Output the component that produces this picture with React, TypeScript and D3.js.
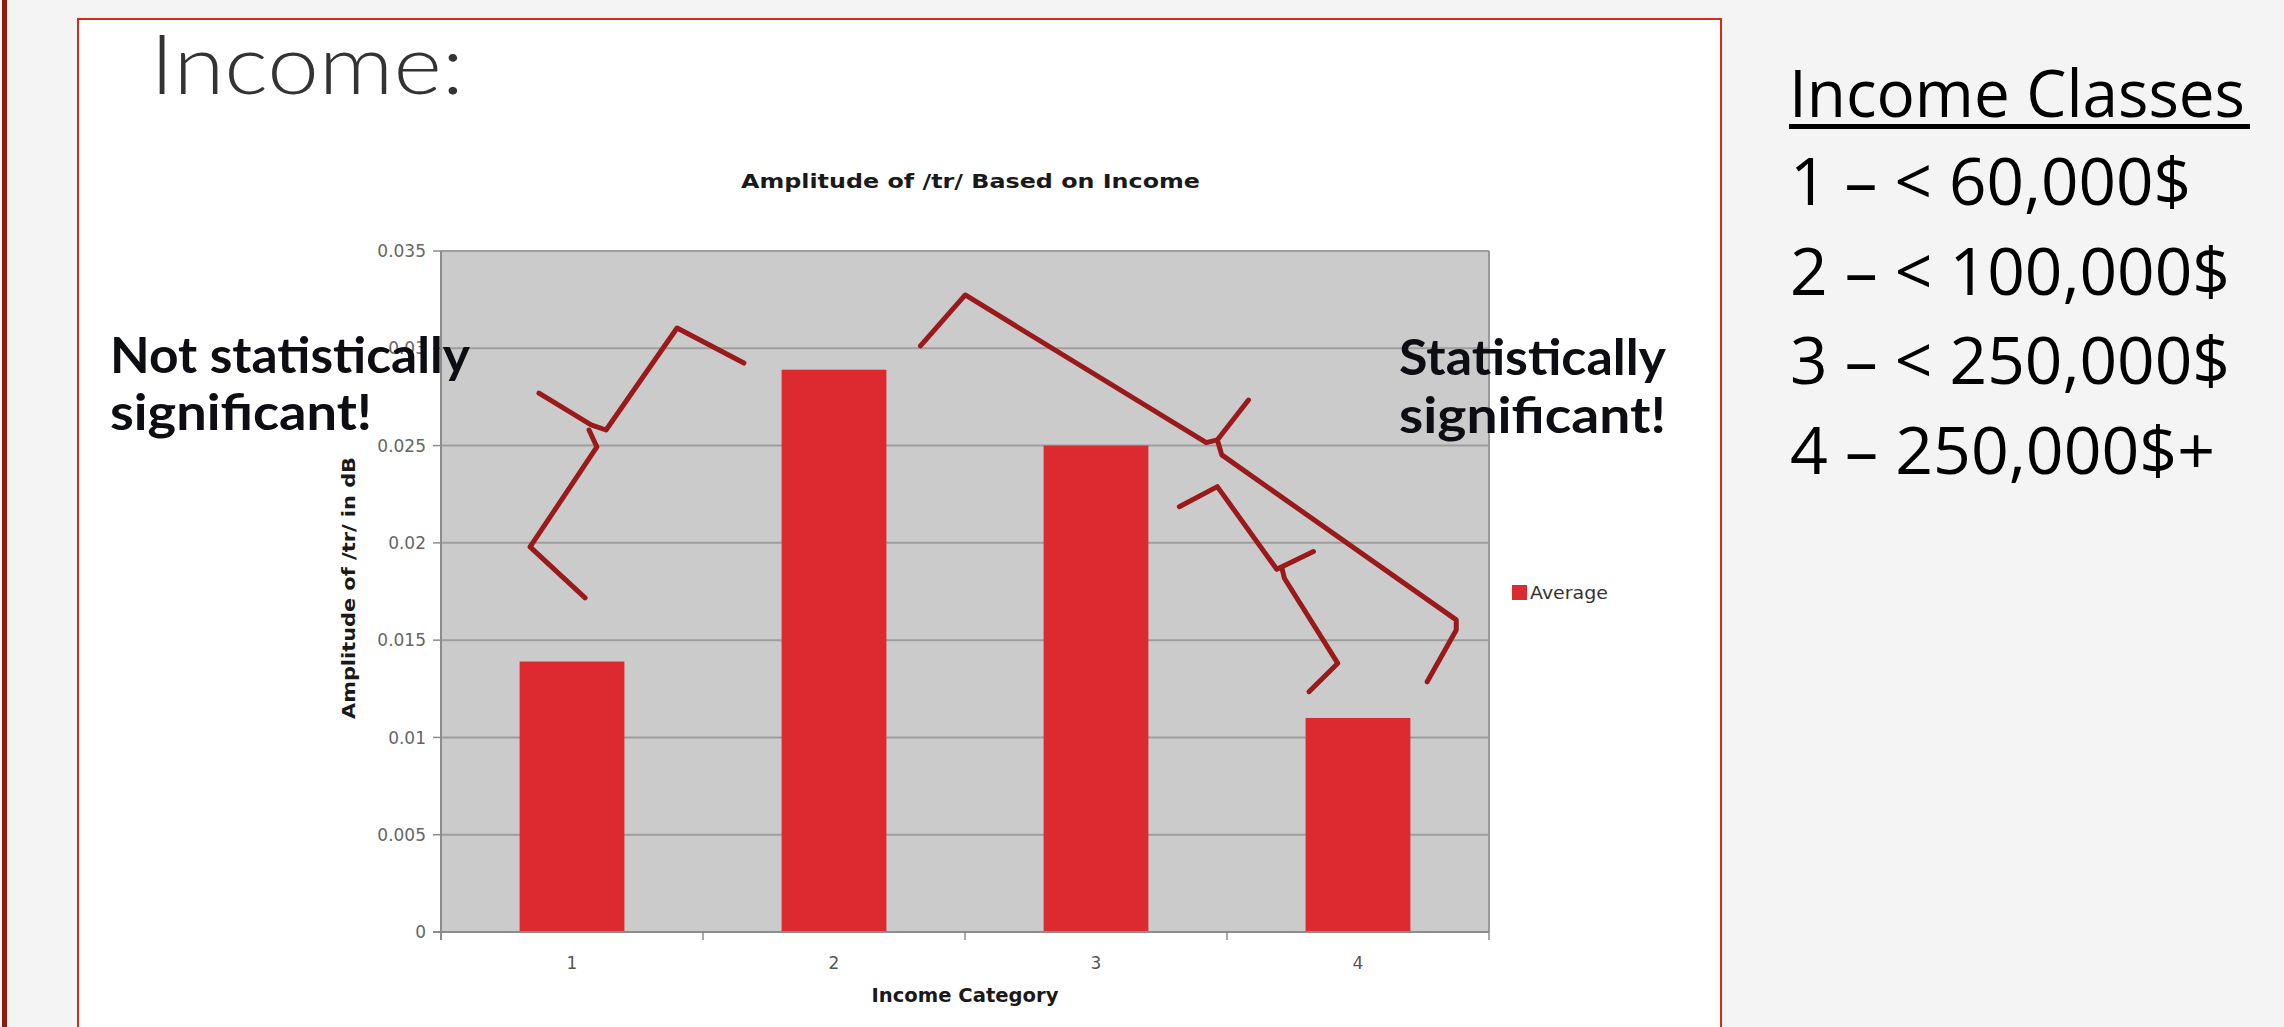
import React from 'react';
import * as d3 from 'd3';

// ---------- data ----------
const categories = ['1', '2', '3', '4'];
const averageValues = [0.0139, 0.0289, 0.025, 0.011];
const yTickValues = [0, 0.005, 0.01, 0.015, 0.02, 0.025, 0.03, 0.035];
const yTickLabels = ['0', '0.005', '0.01', '0.015', '0.02', '0.025', '0.03', '0.035'];
const seriesName = 'Average';
const chartTitle = 'Amplitude of /tr/ Based on Income';
const xAxisTitle = 'Income Category';
const yAxisTitle = 'Amplitude of /tr/ in dB';
const slideTitle = 'Income:';
const legendHeading = 'Income Classes';
const incomeClasses = ['1 – < 60,000$', '2 – < 100,000$', '3 – < 250,000$', '4 – 250,000$+'];
const notSigLines = ['Not statistically', 'significant!'];
const sigLines = ['Statistically', 'significant!'];

// hand-drawn brackets, in data coordinates: [category position, value]
const bracketNotSigA: [number, number][] = [[1.05, 0.01717], [0.84, 0.01979], [1.095, 0.02493], [1.065, 0.0258]];
const bracketNotSigB: [number, number][] = [[0.874, 0.0277], [1.073, 0.02606], [1.13, 0.0258], [1.401, 0.03104], [1.656, 0.02924]];
const bracketBigA: [number, number][] = [[2.33, 0.03012], [2.501, 0.03274], [3.421, 0.02515], [3.463, 0.02529], [3.582, 0.02734]];
const bracketBigB: [number, number][] = [[3.463, 0.02529], [3.48, 0.02452], [4.375, 0.01604], [4.375, 0.01552], [4.264, 0.01286]];
const bracketSmallA: [number, number][] = [[3.318, 0.02186], [3.463, 0.02289], [3.69, 0.01864], [3.83, 0.01955]];
const bracketSmallB: [number, number][] = [[3.71, 0.01869], [3.719, 0.01818], [3.923, 0.01381], [3.813, 0.01235]];
const brackets = [bracketNotSigA, bracketNotSigB, bracketBigA, bracketBigB, bracketSmallA, bracketSmallB];

// ---------- layout ----------
const W = 2284;
const H = 1027;
const plot = { left: 441, right: 1489, top: 251, bottom: 932 };
const chartFont = '"DejaVu Sans", Verdana, sans-serif';
const annoFont = 'Lato, "Open Sans", sans-serif';
const sideFont = '"Open Sans", "Noto Sans", sans-serif';

export default function App() {
  const x = d3
    .scaleBand<string>()
    .domain(categories)
    .range([plot.left, plot.right])
    .paddingInner(0.6)
    .paddingOuter(0.3);
  const xEdges = d3
    .scaleBand<string>()
    .domain(categories)
    .range([plot.left, plot.right]);
  const xPos = d3.scaleLinear().domain([0.5, 4.5]).range([plot.left, plot.right]);
  const y = d3.scaleLinear().domain([0, 0.035]).range([plot.bottom, plot.top]);
  const line = d3
    .line<[number, number]>()
    .x((d) => xPos(d[0]))
    .y((d) => y(d[1]));

  return (
    <svg
      width={W}
      height={H}
      viewBox={`0 0 ${W} ${H}`}
      style={{ position: 'absolute', left: 0, top: 0, display: 'block' }}
    >
      {/* slide background */}
      <rect x={0} y={0} width={W} height={H} fill="#f4f4f4" />
      <rect x={2} y={0} width={5} height={H} fill="#8e1a10" />
      {/* white panel */}
      <rect x={78} y={19} width={1643} height={H} fill="#ffffff" stroke="#d42c16" strokeWidth={2} />

      <text
        x={150}
        y={94}
        fontFamily={annoFont}
        fontWeight={300}
        fontSize={82}
        fill="#333333"
        textLength={314}
        lengthAdjust="spacingAndGlyphs"
      >
        {slideTitle}
      </text>

      {/* chart title */}
      <text
        x={741}
        y={188}
        fontFamily={chartFont}
        fontWeight="bold"
        fontSize={20}
        fill="#1a1a1a"
        textLength={459}
        lengthAdjust="spacingAndGlyphs"
      >
        {chartTitle}
      </text>

      {/* plot area */}
      <rect
        x={plot.left}
        y={plot.top}
        width={plot.right - plot.left}
        height={plot.bottom - plot.top}
        fill="#cbcbcb"
      />
      {yTickValues.map((t) => (
        <line
          key={`g${t}`}
          x1={plot.left}
          x2={plot.right}
          y1={y(t)}
          y2={y(t)}
          stroke="#9e9e9e"
          strokeWidth={2}
        />
      ))}
      <line x1={plot.right} x2={plot.right} y1={plot.top} y2={plot.bottom} stroke="#9a9a9a" strokeWidth={2} />

      {/* bars */}
      {categories.map((c, i) => (
        <rect
          key={`b${c}`}
          x={x(c)}
          y={y(averageValues[i])}
          width={x.bandwidth()}
          height={plot.bottom - y(averageValues[i])}
          fill="#dd2a30"
        />
      ))}

      {/* axes */}
      <line x1={plot.left} x2={plot.left} y1={plot.top} y2={plot.bottom + 8} stroke="#8c8c8c" strokeWidth={2} />
      <line x1={plot.left - 8} x2={plot.right} y1={plot.bottom} y2={plot.bottom} stroke="#8c8c8c" strokeWidth={2} />
      {yTickValues.map((t, i) => (
        <g key={`yt${t}`}>
          <line x1={plot.left - 8} x2={plot.left} y1={y(t)} y2={y(t)} stroke="#8c8c8c" strokeWidth={1.5} />
          <text
            x={plot.left - 15}
            y={y(t)}
            dy="0.36em"
            textAnchor="end"
            fontFamily={chartFont}
            fontSize={17}
            fill="#666"
          >
            {yTickLabels[i]}
          </text>
        </g>
      ))}
      {categories.map((c) => (
        <g key={`xt${c}`}>
          <line
            x1={(xEdges(c) as number) + xEdges.bandwidth()}
            x2={(xEdges(c) as number) + xEdges.bandwidth()}
            y1={plot.bottom}
            y2={plot.bottom + 8}
            stroke="#8c8c8c"
            strokeWidth={1.5}
          />
          <text
            x={(x(c) as number) + x.bandwidth() / 2}
            y={969}
            textAnchor="middle"
            fontFamily={chartFont}
            fontSize={17}
            fill="#555"
          >
            {c}
          </text>
        </g>
      ))}
      <text
        x={(plot.left + plot.right) / 2}
        y={1002}
        textAnchor="middle"
        fontFamily={chartFont}
        fontWeight="bold"
        fontSize={19}
        fill="#1a1a1a"
        textLength={187}
        lengthAdjust="spacingAndGlyphs"
      >
        {xAxisTitle}
      </text>
      <text
        transform={`translate(355, 588) rotate(-90)`}
        textAnchor="middle"
        fontFamily={chartFont}
        fontWeight="bold"
        fontSize={18}
        fill="#1a1a1a"
        textLength={262}
        lengthAdjust="spacingAndGlyphs"
      >
        {yAxisTitle}
      </text>

      {/* legend */}
      <rect x={1512} y={585} width={15} height={15} fill="#dd2a30" />
      <text
        x={1530}
        y={593}
        dy="0.36em"
        fontFamily={chartFont}
        fontSize={18}
        fill="#333"
        textLength={78}
        lengthAdjust="spacingAndGlyphs"
      >
        {seriesName}
      </text>

      {/* annotations */}
      {notSigLines.map((t, i) => (
        <text
          key={`ns${i}`}
          x={110}
          y={373 + i * 57}
          fontFamily={annoFont}
          fontWeight="bold"
          fontSize={50}
          fill="#0d0d14"
          textLength={i === 0 ? 360 : 262}
          lengthAdjust="spacingAndGlyphs"
        >
          {t}
        </text>
      ))}
      {sigLines.map((t, i) => (
        <text
          key={`s${i}`}
          x={1399}
          y={375 + i * 58}
          fontFamily={annoFont}
          fontWeight="bold"
          fontSize={50}
          fill="#0d0d14"
          textLength={267}
          lengthAdjust="spacingAndGlyphs"
        >
          {t}
        </text>
      ))}
      {brackets.map((b, i) => (
        <path
          key={`br${i}`}
          d={line(b) || ''}
          fill="none"
          stroke="#9a1a1c"
          strokeWidth={5}
          strokeLinejoin="round"
          strokeLinecap="round"
        />
      ))}

      {/* income classes */}
      <text
        x={1789}
        y={117}
        fontFamily={sideFont}
        fontSize={66}
        fill="#000"
        textLength={456}
        lengthAdjust="spacingAndGlyphs"
      >
        {legendHeading}
      </text>
      <rect x={1789} y={124} width={461} height={5} fill="#000" />
      {incomeClasses.map((t, i) => (
        <text
          key={`ic${i}`}
          x={1790}
          y={205 + i * 89.5}
          fontFamily={sideFont}
          fontSize={66}
          fill="#000"
          textLength={[401, 440, 440, 425][i]}
          lengthAdjust="spacingAndGlyphs"
        >
          {t}
        </text>
      ))}
    </svg>
  );
}
